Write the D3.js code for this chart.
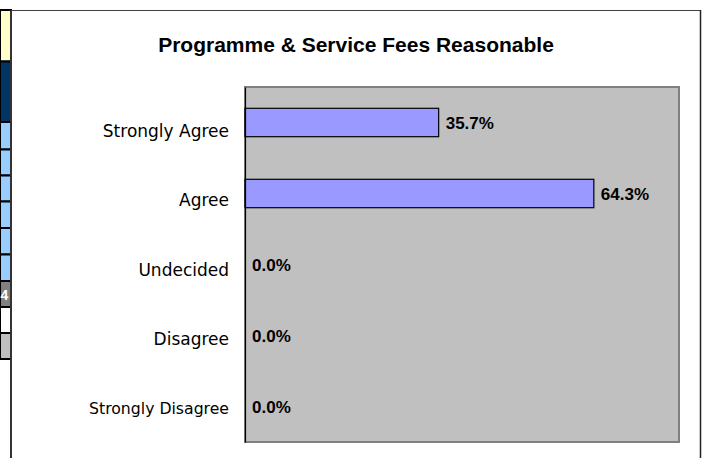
<!DOCTYPE html>
<html>
<head>
<meta charset="utf-8">
<script src="https://cdn.jsdelivr.net/npm/d3@7"></script>
<style>
    body { margin: 0; background: #fff; }
    svg { display: block; }
</style>
</head>
<body>
<svg></svg>
<script>
// chart data
var categories = ["Strongly Agree", "Agree", "Undecided", "Disagree", "Strongly Disagree"];
var percentages = [35.7, 64.3, 0.0, 0.0, 0.0];
var x_domain = [0, 80];
var chart_title = "Programme & Service Fees Reasonable";

var width = 702, height = 458;
var plot = {left: 245, top: 87, right: 679, bottom: 442};

var svg = d3.select("svg").attr("width", width).attr("height", height);
svg.append("rect").attr("width", width).attr("height", height).attr("fill", "white");

// bits of the worksheet that show on the left of the chart
function draw_cells() {
    var g = svg.append("g");
    var cells = [
        [10, 61.5, "#ffffcc"], [61.5, 122, "#003366"], [122, 149.5, "#99ccff"],
        [149.5, 175.5, "#99ccff"], [175.5, 201.5, "#99ccff"], [201.5, 228, "#99ccff"],
        [228, 254.5, "#99ccff"], [254.5, 281, "#99ccff"], [281, 307, "#808080"],
        [307, 333, "#ffffff"], [333, 359, "#c0c0c0"]
    ];
    g.selectAll("rect").data(cells).enter().append("rect")
        .attr("x", 0).attr("y", function (d) { return d[0]; })
        .attr("width", 11).attr("height", function (d) { return d[1] - d[0]; })
        .attr("fill", function (d) { return d[2]; })
        .attr("stroke", "black").attr("stroke-width", 2);
    g.append("text")
        .attr("x", 0.5).attr("y", 300)
        .style("font", "bold 14px 'Liberation Sans', Arial, sans-serif")
        .attr("fill", "white")
        .text("4");
}
draw_cells();

// chart frame
svg.append("line").attr("x1", 11).attr("x2", 701).attr("y1", 10.5).attr("y2", 10.5)
    .attr("stroke", "#404040").attr("stroke-width", 1);
svg.append("line").attr("x1", 700.5).attr("x2", 700.5).attr("y1", 10).attr("y2", height)
    .attr("stroke", "#222").attr("stroke-width", 1.5);
svg.append("line").attr("x1", 11).attr("x2", 11).attr("y1", 10).attr("y2", height)
    .attr("stroke", "#333").attr("stroke-width", 2);

svg.append("text")
    .attr("x", 356).attr("y", 52)
    .attr("text-anchor", "middle")
    .style("font", "bold 21px 'Liberation Sans', Arial, sans-serif")
    .attr("fill", "black")
    .text(chart_title);

var xscale = d3.scaleLinear().domain(x_domain).range([plot.left, plot.right]);
var yscale = d3.scaleBand().domain(categories)
    .range([plot.top, plot.bottom])
    .paddingInner(0.6).paddingOuter(0.3);
// excel spaces the category labels a little tighter than the bars
var label_y = d3.scalePoint().domain(categories).range([plot.top + 44, plot.bottom - 34]);

svg.append("rect")
    .attr("x", plot.left).attr("y", plot.top)
    .attr("width", plot.right - plot.left).attr("height", plot.bottom - plot.top)
    .attr("fill", "#c0c0c0")
    .attr("stroke", "#808080").attr("stroke-width", 2);

var data = categories.map(function (c, i) { return {cat: c, value: percentages[i]}; });

svg.append("g").selectAll("rect")
    .data(data.filter(function (d) { return d.value > 0; }))
    .enter().append("rect")
    .attr("x", xscale(0))
    .attr("y", function (d) { return yscale(d.cat); })
    .attr("width", function (d) { return xscale(d.value) - xscale(0); })
    .attr("height", yscale.bandwidth())
    .attr("fill", "#9999ff")
    .attr("stroke", "black").attr("stroke-width", 1.2);

// category axis line, no ticks
var axis = svg.append("g")
    .attr("transform", "translate(" + plot.left + ",0)")
    .call(d3.axisLeft(yscale).tickSize(0).tickSizeOuter(0).tickFormat(""));
axis.select(".domain").attr("stroke", "black").attr("stroke-width", 1.2);

var max_label = 140;
svg.append("g").selectAll("text")
    .data(categories)
    .enter().append("text")
    .attr("x", plot.left - 16)
    .attr("y", function (d) { return label_y(d); })
    .attr("dy", "0.36em")
    .attr("text-anchor", "end")
    .style("font-family", "'DejaVu Sans', Verdana, sans-serif")
    .style("font-size", "17px")
    .attr("fill", "black")
    .text(function (d) { return d; })
    .each(function () {
        var w = this.getComputedTextLength();
        if (w > max_label) d3.select(this).style("font-size", (17 * max_label / w) + "px");
    });

var fmt = d3.format(".1f");
svg.append("g").selectAll("text")
    .data(data)
    .enter().append("text")
    .attr("x", function (d) { return xscale(d.value) + 7; })
    .attr("y", function (d) { return yscale(d.cat) + yscale.bandwidth() / 2; })
    .attr("dy", "0.36em")
    .style("font", "bold 17px 'Liberation Sans', Arial, sans-serif")
    .attr("fill", "black")
    .text(function (d) { return fmt(d.value) + "%"; });
</script>
</body>
</html>
